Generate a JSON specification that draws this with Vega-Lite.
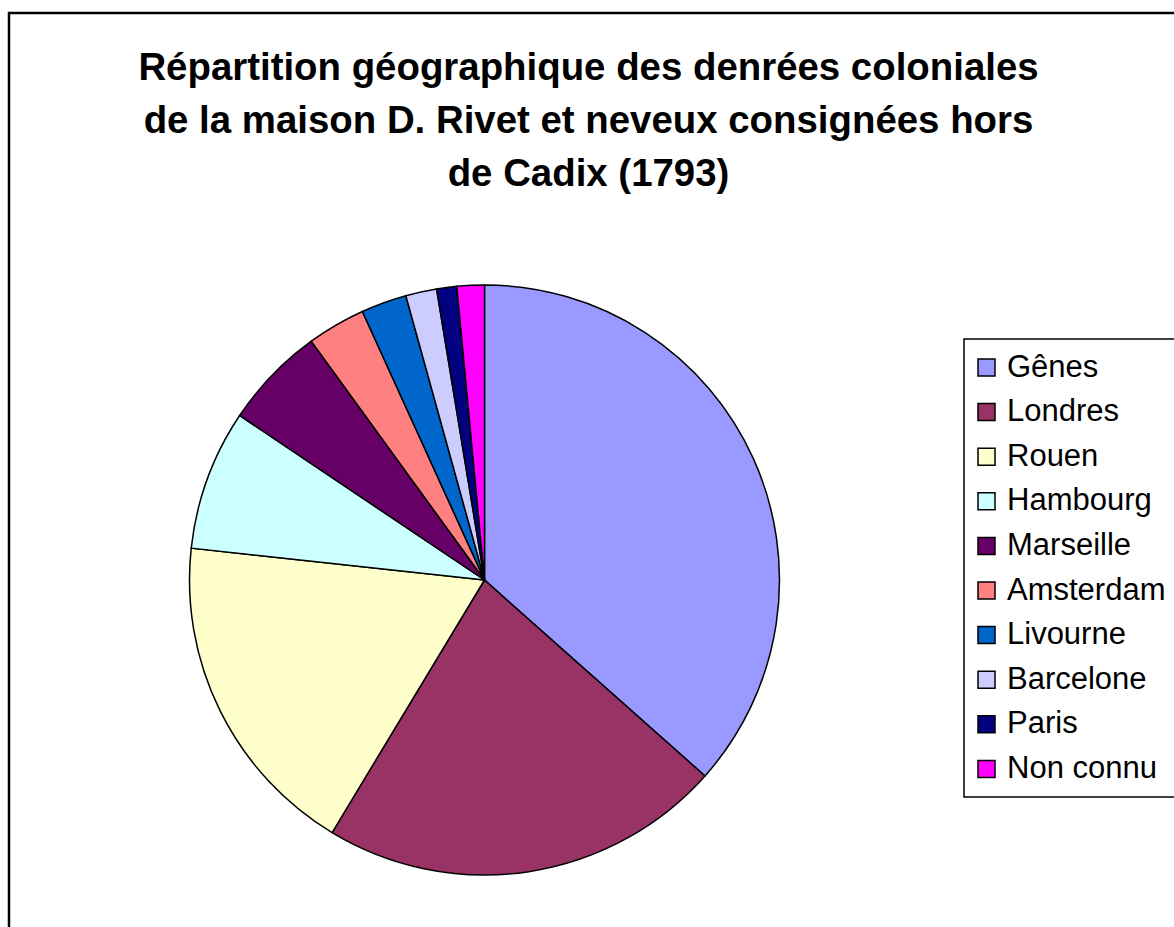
{
  "$schema": "https://vega.github.io/schema/vega-lite/v6.json",
  "autosize": "none",
  "padding": {"left": 9, "top": 13, "right": -10, "bottom": -10},
  "width": 1175,
  "height": 924,
  "background": "white",
  "view": {"stroke": "black", "strokeWidth": 2.5},
  "title": {
    "text": ["Répartition géographique des denrées coloniales", "de la maison D. Rivet et neveux consignées hors", "de Cadix (1793)"],
    "font": "Liberation Sans",
    "fontSize": 38.4,
    "fontWeight": "bold",
    "color": "black",
    "lineHeight": 53,
    "anchor": "middle",
    "frame": "group",
    "orient": "top",
    "offset": -181,
    "dx": -8
  },
  "data": {
    "values": [
      {"ville": "Gênes", "part": 36.6, "ordre": 1},
      {"ville": "Londres", "part": 22.1, "ordre": 2},
      {"ville": "Rouen", "part": 18.1, "ordre": 3},
      {"ville": "Hambourg", "part": 7.7, "ordre": 4},
      {"ville": "Marseille", "part": 5.6, "ordre": 5},
      {"ville": "Amsterdam", "part": 3.2, "ordre": 6},
      {"ville": "Livourne", "part": 2.5, "ordre": 7},
      {"ville": "Barcelone", "part": 1.7, "ordre": 8},
      {"ville": "Paris", "part": 1.1, "ordre": 9},
      {"ville": "Non connu", "part": 1.5, "ordre": 10}
    ]
  },
  "mark": {"type": "arc", "outerRadius": 295, "stroke": "black", "strokeWidth": 1.5, "xOffset": -112, "yOffset": 105},
  "encoding": {
    "theta": {"field": "part", "type": "quantitative", "stack": true},
    "order": {"field": "ordre", "type": "quantitative", "sort": "ascending"},
    "color": {
      "field": "ville",
      "type": "nominal",
      "scale": {
        "domain": ["Gênes", "Londres", "Rouen", "Hambourg", "Marseille", "Amsterdam", "Livourne", "Barcelone", "Paris", "Non connu"],
        "range": ["#9999FF", "#993366", "#FFFFCC", "#CCFFFF", "#660066", "#FF8080", "#0066CC", "#CCCCFF", "#000080", "#FF00FF"]
      },
      "legend": {
        "title": null,
        "orient": "none",
        "legendX": 955,
        "legendY": 326,
        "symbolType": "square",
        "symbolSize": 289,
        "symbolStrokeColor": "black",
        "symbolOffset": -6,
        "labelFont": "Liberation Sans",
        "labelFontSize": 31,
        "labelColor": "black",
        "labelLimit": 400,
        "labelOffset": 5,
        "rowPadding": 12.6,
        "padding": 13,
        "strokeColor": "black"
      }
    }
  },
  "config": {
    "view": {"stroke": "black", "strokeWidth": 2.5},
    "style": {"view": {"stroke": "black", "strokeWidth": 2.5}, "cell": {"stroke": "black", "strokeWidth": 2.5}},
    "legend": {"strokeWidth": 1.5, "symbolStrokeWidth": 1.5}
  }
}
